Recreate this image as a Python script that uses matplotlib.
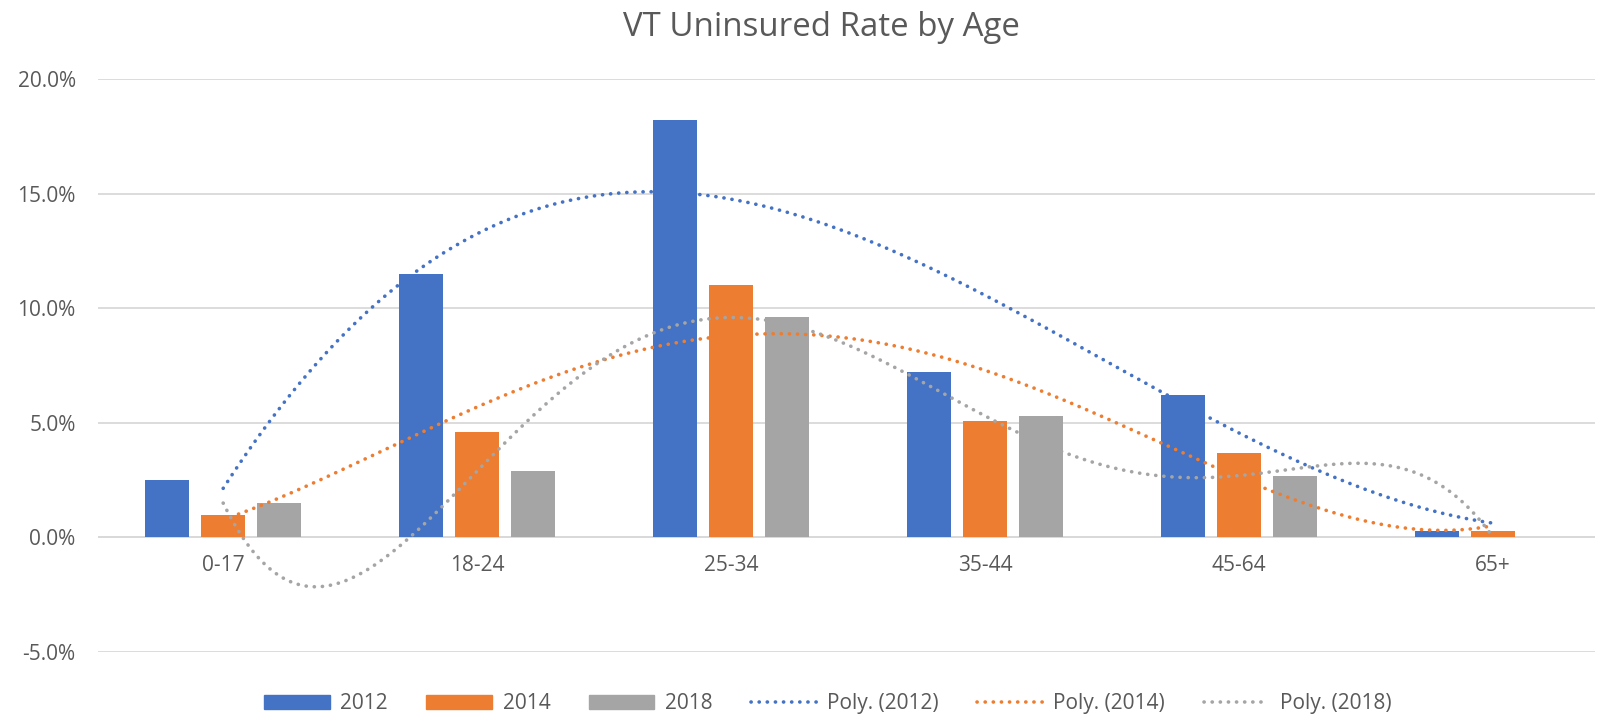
#!/usr/bin/env python3
"""VT uninsured rate by age, grouped bars with polynomial trendlines."""

import numpy as np
import matplotlib
matplotlib.use("Agg")
import matplotlib.pyplot as plt
from matplotlib.ticker import FuncFormatter
from matplotlib.patches import Patch
from matplotlib.lines import Line2D

ages = ["0-17", "18-24", "25-34", "35-44", "45-64", "65+"]
years = ["2012", "2014", "2018"]
rate_2012 = [2.5, 11.5, 18.2, 7.2, 6.2, 0.3]
rate_2014 = [1.0, 4.6, 11.0, 5.1, 3.7, 0.3]
rate_2018 = [1.5, 2.9, 9.6, 5.3, 2.7, 0.0]
trend_order = [3, 4, 5]

colors = ["#4472C4", "#ED7D31", "#A5A5A5"]
text_col = "#595959"

plt.rcParams["font.family"] = ["Open Sans", "DejaVu Sans"]

fig = plt.figure(figsize=(15.98, 7.16), dpi=100)
ax = fig.add_axes([0.0613, 0.0894, 0.9367, 0.800])

x = np.arange(len(ages))
width = 0.173
offsets = [-0.221, 0.0, 0.221]
series = [rate_2012, rate_2014, rate_2018]

for vals, off, c in zip(series, offsets, colors):
    ax.bar(x + off, vals, width, color=c, zorder=2)

# Excel-style polynomial trendlines (x = 1..n)
xs = np.linspace(1, len(ages), 300)
dots = (0, (0.05, 2.2))
for vals, order, c in zip(series, trend_order, colors):
    coef = np.polyfit(np.arange(1, len(ages) + 1), vals, order)
    ax.plot(xs - 1, np.polyval(coef, xs), color=c, lw=2.6,
            linestyle=dots, dash_capstyle="round", zorder=3)

ax.set_ylim(-5, 20)
ax.set_xlim(-0.493, 5.40)
ax.set_yticks(np.arange(-5, 21, 5))
ax.yaxis.set_major_formatter(FuncFormatter(lambda v, p: f"{v:.1f}%"))
ax.grid(axis="y", color="#D9D9D9", lw=1.3, zorder=0)
ax.axhline(0, color="#D9D9D9", lw=1.3, zorder=1)
for s in ax.spines.values():
    s.set_visible(False)
ax.tick_params(length=0, labelsize=15, labelcolor=text_col)
ax.tick_params(axis="y", pad=16)

# category labels sit just under the zero line
ax.set_xticks([])
for xi, lab in zip(x, ages):
    ax.text(xi, -0.75, lab, ha="center", va="top", fontsize=15, color=text_col)

fig.suptitle("VT Uninsured Rate by Age", x=0.514, y=0.985, fontsize=23.8,
             color=text_col)

handles = [Patch(color=c) for c in colors]
handles += [Line2D([0], [0], color=c, lw=2.6, linestyle=dots,
                   dash_capstyle="round") for c in colors]
labels = years + [f"Poly. ({y})" for y in years]
fig.legend(handles, labels, loc="center", bbox_to_anchor=(0.518, 0.017), ncol=6,
           frameon=False, fontsize=15, labelcolor=text_col,
           handlelength=3.15, handleheight=0.7, columnspacing=1.85,
           handletextpad=0.5)

fig.savefig("out.png", dpi=100)
